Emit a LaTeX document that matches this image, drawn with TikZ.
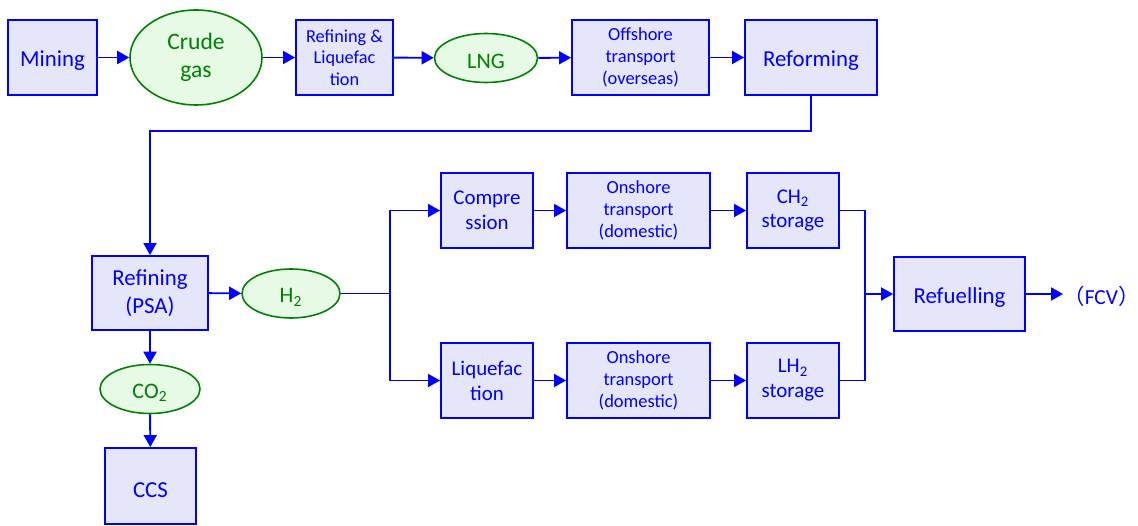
\documentclass[tikz,border=0pt]{standalone}
\usepackage{fontspec}
\setmainfont{Carlito}
\newfontfamily\cjk{Noto Sans CJK SC}
\usetikzlibrary{shapes,arrows.meta,positioning,calc}
\definecolor{lineblue}{RGB}{0,0,255}
\definecolor{boxfill}{RGB}{230,230,250}
\definecolor{gasgreen}{RGB}{0,128,0}
\definecolor{gasfill}{RGB}{230,250,230}

\begin{document}
\begin{tikzpicture}[
    block/.style={rectangle, draw=lineblue, line width=1.1pt, fill=boxfill, text=lineblue, align=center, inner sep=1pt, minimum width=1.84cm, minimum height=1.5cm, font=\fontsize{13}{15.5}\selectfont, execute at begin node=\rule{0pt}{1em}},
    mid/.style={font=\fontsize{11.9}{14.2}\selectfont},
    small/.style={font=\fontsize{10.5}{12.6}\selectfont},
    gas/.style={ellipse, draw=gasgreen, line width=0.9pt, fill=gasfill, text=gasgreen, align=center, inner sep=0pt, minimum width=2cm, minimum height=0.98cm, font=\fontsize{12.6}{15}\selectfont, execute at begin node=\rule{0pt}{1em}},
    arrow/.style={-{Triangle[length=2.4mm, width=2.6mm]}, draw=lineblue, line width=1.1pt},
    link/.style={draw=lineblue, line width=1.1pt}
]
\useasboundingbox (0,0) rectangle (22.76,-10.52);

% upstream: gas field to reforming
\node[block, minimum width=1.78cm] (mining) at (1.05,-1.15) {Mining};
\node[gas, minimum width=2.64cm, minimum height=1.9cm, font=\fontsize{13.4}{16}\selectfont] (crude) at (3.92,-1.15) {Crude\\gas};
\node[block, minimum width=1.94cm, font=\fontsize{10.4}{12.3}\selectfont] (refliq) at (6.89,-1.15) {Refining \&\\Liquefac\\tion};
\node[gas, minimum width=2.06cm] (lng) at (9.72,-1.16) {LNG};
\node[block, small, minimum width=2.74cm] (offshore) at (12.81,-1.15) {Offshore\\transport\\(overseas)};
\node[block, minimum width=2.64cm] (reforming) at (16.22,-1.15) {Reforming};

% hydrogen production
\node[block, minimum width=2.32cm, minimum height=1.48cm, font=\fontsize{13}{16.2}\selectfont] (psa) at (3.0,-5.86) {Refining\\(PSA)};
\node[gas, minimum width=1.96cm] (htwo) at (5.82,-5.87) {H\textsubscript{2}};
\node[gas] (cotwo) at (3.0,-7.78) {CO\textsubscript{2}};
\node[block, minimum width=1.82cm, minimum height=1.52cm] (ccs) at (3.01,-9.72) {CCS};

% compressed route
\node[block, mid] (comp) at (9.74,-4.21) {Compre\\ssion};
\node[block, small, minimum width=2.86cm] (onshoreA) at (12.77,-4.21) {Onshore\\transport\\(domestic)};
\node[block, mid] (chtwo) at (15.86,-4.21) {CH\textsubscript{2}\\storage};

% liquid route
\node[block, mid] (liq) at (9.74,-7.61) {Liquefac\\tion};
\node[block, small, minimum width=2.86cm] (onshoreB) at (12.77,-7.61) {Onshore\\transport\\(domestic)};
\node[block, mid] (lhtwo) at (15.86,-7.61) {LH\textsubscript{2}\\storage};

% station
\node[block, minimum width=2.62cm, minimum height=1.48cm] (refuel) at (19.19,-5.88) {Refuelling};
\node[anchor=west, inner sep=0pt, text=lineblue, font=\fontsize{12.2}{15}\selectfont] (fcv) at (21.26,-5.92) {{\cjk （}FCV{\cjk ）}\hspace{-0.5em}};

\coordinate (split) at (7.8,-5.87);
\coordinate (merge) at (17.3,-5.88);

\draw[arrow] (mining) -- (crude);
\draw[arrow] (crude) -- (refliq);
\draw[arrow] (refliq) -- (lng);
\draw[arrow] (lng) -- (offshore);
\draw[arrow] (offshore) -- (reforming);
\draw[arrow] (reforming.south) -- ++(0,-0.7) -| (psa.north);
\draw[arrow] (psa) -- (htwo);
\draw[arrow] (psa) -- (cotwo);
\draw[arrow] (cotwo) -- (ccs);
\draw[link] (htwo.east) -- (split);
\draw[arrow] (split) |- (comp.west);
\draw[arrow] (split) |- (liq.west);
\draw[arrow] (comp) -- (onshoreA);
\draw[arrow] (onshoreA) -- (chtwo);
\draw[arrow] (liq) -- (onshoreB);
\draw[arrow] (onshoreB) -- (lhtwo);
\draw[link] (chtwo.east) -| (merge);
\draw[link] (lhtwo.east) -| (merge);
\draw[arrow] (merge) -- (refuel.west);
\draw[arrow] (refuel.east) -- (refuel.east -| fcv.west);
\end{tikzpicture}
\end{document}
